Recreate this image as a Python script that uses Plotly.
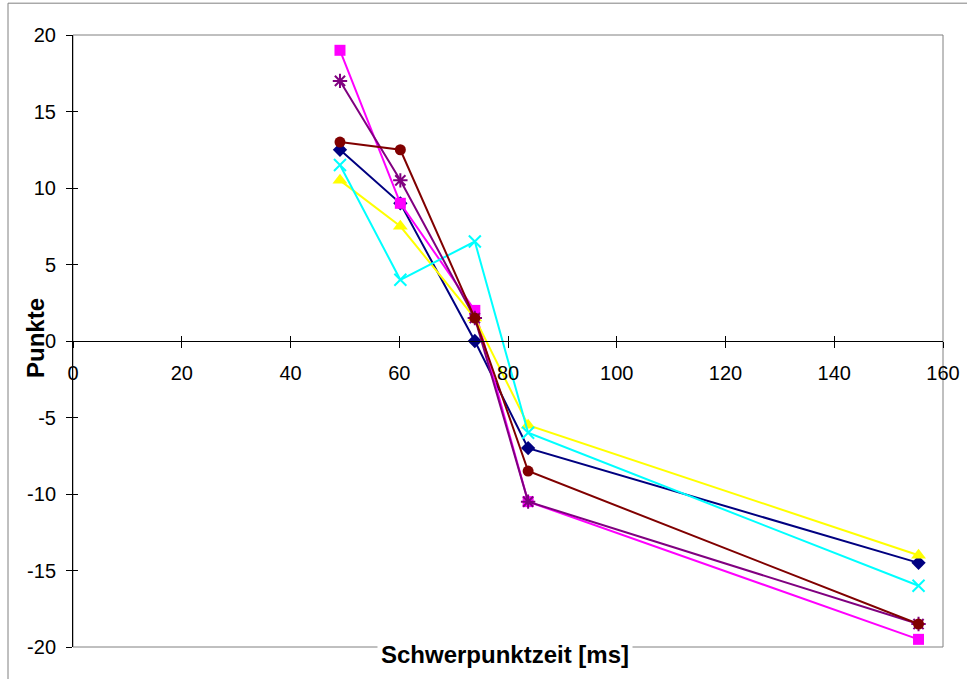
import plotly.graph_objects as go

# Data
x_vals = [49.1, 60.2, 73.9, 83.7, 155.5]
series_names = ["Reihe1", "Reihe2", "Reihe3", "Reihe4", "Reihe5", "Reihe6"]
navy_vals = [12.5, 9.0, 0.0, -7.0, -14.5]
magenta_vals = [19.0, 9.0, 2.0, -10.5, -19.5]
yellow_vals = [10.5, 7.5, 1.5, -5.5, -14.0]
cyan_vals = [11.5, 4.0, 6.5, -6.0, -16.0]
purple_vals = [17.0, 10.5, 1.5, -10.5, -18.5]
maroon_vals = [13.0, 12.5, 1.5, -8.5, -18.5]
x_ticks = [0, 20, 40, 60, 80, 100, 120, 140, 160]
y_ticks = [-20, -15, -10, -5, 0, 5, 10, 15, 20]

FONT = "Liberation Sans, Arial, sans-serif"

styles = [
    (navy_vals, "#000080", "diamond", 11, None),
    (magenta_vals, "#FF00FF", "square", 11, None),
    (yellow_vals, "#FFFF00", "triangle-up", 13, None),
    (cyan_vals, "#00FFFF", "x-thin-open", 12, 2),
    (purple_vals, "#800080", "asterisk-open", 12, 2),
    (maroon_vals, "#800000", "circle", 11, None),
]

fig = go.Figure()
for name, (vals, color, sym, size, lw) in zip(series_names, styles):
    marker = dict(symbol=sym, size=size, color=color)
    if lw:
        marker["line"] = dict(color=color, width=lw)
    else:
        marker["line"] = dict(width=0)
    fig.add_trace(go.Scatter(
        x=x_vals, y=vals, mode="lines+markers", name=name,
        line=dict(color=color, width=2), marker=marker,
        cliponaxis=False, showlegend=False,
    ))

# dummy trace for overlay axes (cross ticks)
fig.add_trace(go.Scatter(x=[None], y=[None], xaxis="x2", yaxis="y2",
                         showlegend=False, hoverinfo="skip"))

fig.update_layout(
    template="none",
    width=967, height=679,
    margin=dict(l=73, r=24, t=35, b=32, autoexpand=False),
    paper_bgcolor="white", plot_bgcolor="white",
    font=dict(family=FONT, size=20, color="black"),
    xaxis=dict(range=[0, 160], tickvals=x_ticks, ticktext=[str(v) for v in x_ticks],
               showgrid=False, zeroline=False, showline=True, linecolor="black",
               linewidth=1, ticks="outside", ticklen=6, tickcolor="black",
               anchor="free", position=0.5, ticklabelstandoff=8, automargin=False,
               tickfont=dict(family=FONT, size=20, color="black")),
    xaxis2=dict(range=[0, 160], tickvals=x_ticks, overlaying="x", anchor="free",
                position=0.5, showticklabels=False, showgrid=False, zeroline=False,
                showline=False, ticks="inside", ticklen=5, tickcolor="black",
                automargin=False),
    yaxis=dict(range=[-20, 20], tickvals=y_ticks, ticktext=[str(v) for v in y_ticks],
               showgrid=False, zeroline=False, showline=True, linecolor="black",
               linewidth=1, ticks="outside", ticklen=6, tickcolor="black",
               ticklabelstandoff=6, automargin=False,
               tickfont=dict(family=FONT, size=20, color="black")),
    yaxis2=dict(range=[-20, 20], tickvals=y_ticks, overlaying="y", anchor="x",
                side="left", showticklabels=False, showgrid=False, zeroline=False,
                showline=False, ticks="inside", ticklen=5, tickcolor="black",
                automargin=False),
    shapes=[
        dict(type="rect", xref="paper", yref="paper", x0=-0.0747, x1=1.1,
             y0=-0.1, y1=1.052, line=dict(color="#808080", width=1), layer="below"),
        dict(type="rect", xref="paper", yref="paper", x0=0, x1=1, y0=0, y1=1,
             line=dict(color="#808080", width=1), layer="below"),
    ],
    annotations=[
        dict(text="<b>Punkte</b>", xref="paper", yref="paper", x=-0.0425, y=0.505,
             textangle=-90, showarrow=False, xanchor="center", yanchor="middle",
             font=dict(family=FONT, size=24, color="black")),
        dict(text="<b>Schwerpunktzeit [ms]</b>", xref="paper", yref="paper",
             x=0.4966, y=-0.013, showarrow=False, xanchor="center", yanchor="middle",
             bgcolor="white", borderpad=3,
             font=dict(family=FONT, size=24, color="black")),
    ],
)

fig.write_html("out.html")
